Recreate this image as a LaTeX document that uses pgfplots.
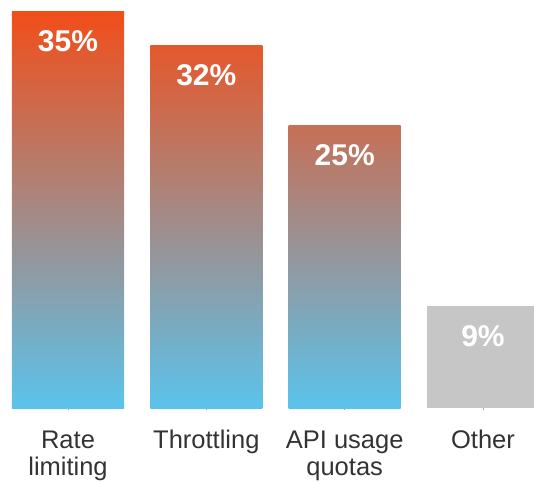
\documentclass[border=0pt]{standalone}
\usepackage{pgfplots}
\pgfplotsset{compat=1.18}
\usepackage{fontspec}
\setmainfont{Liberation Sans}
\definecolor{topc}{RGB}{241,78,26}
\definecolor{botc}{RGB}{91,195,236}
\definecolor{otherc}{RGB}{198,198,198}
\definecolor{txt}{RGB}{51,51,51}
\colorlet{c32}{topc!91.4!botc}
\colorlet{c25}{topc!71.4!botc}
\begin{document}
\begin{tikzpicture}
\begin{axis}[
  scale only axis,
  width=534bp, height=408bp,
  xmin=-0.4917, xmax=3.3688,
  ymin=0, ymax=36.06,
  axis line style={draw=none},
  ybar, bar width=0.81,
  ytick=\empty,
  xtick={0,1,2,3},
  xticklabels={{Rate\\limiting},{Throttling},{API usage\\quotas},{Other}},
  xticklabel style={font=\fontsize{25.5bp}{27.5bp}\selectfont, text=txt, align=center, anchor=north, yshift=-17bp},
  tick align=outside, xtick pos=lower,
  major tick length=2bp,
  tick style={gray!70, line width=0.5bp},
  /pgf/number format/assume math mode=true,
  nodes near coords={\pgfmathprintnumber{\pgfplotspointmeta}\%},
  every node near coord/.append style={font=\bfseries\fontsize{30bp}{32bp}\selectfont, text=white, anchor=base, yshift=-40bp},
  clip=true,
]
\addplot[draw=none, bar shift=0pt, top color=topc, bottom color=botc] coordinates {(0,35)};
\addplot[draw=none, bar shift=0pt, top color=c32, bottom color=botc] coordinates {(1,32)};
\addplot[draw=none, bar shift=0pt, top color=c25, bottom color=botc] coordinates {(2,25)};
\addplot[draw=none, bar shift=0pt, fill=otherc] coordinates {(3,9)};
\coordinate (bl) at (rel axis cs:0,0);
\coordinate (tr) at (rel axis cs:1,1);
\end{axis}
\pgfresetboundingbox
\path[use as bounding box] (bl) ++(0,-74bp) rectangle (tr);
\end{tikzpicture}
\end{document}
